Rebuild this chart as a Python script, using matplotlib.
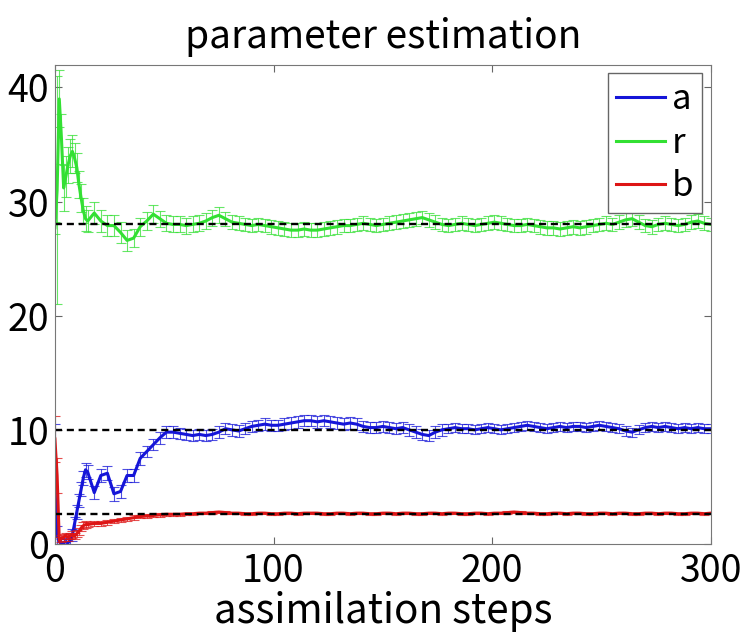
import numpy as np
import matplotlib
matplotlib.use("Agg")
import matplotlib.pyplot as plt

plt.rcParams['font.family'] = ['Noto Sans CJK JP', 'DejaVu Sans']

# assimilation steps: every step at first, then every 3rd step
steps = list(range(15)) + list(range(15, 301, 3))

# estimated parameter a (blue)
a_mean = [5.0, 0.8, 0.2, 0.1, 0.1, 0.2, 0.1, 0.3, 0.8, 1.8, 2.8, 3.8, 4.8, 5.8, 6.5,
          6.3, 4.5, 6.0, 6.2, 4.4, 4.6, 6.0, 6.0, 7.5, 8.1, 8.7, 9.3, 9.8, 9.8, 9.7,
          9.6, 9.5, 9.6, 9.5, 9.6, 9.8, 10.1, 10.0, 9.9, 10.1, 10.3, 10.4, 10.5, 10.4,
          10.4, 10.5, 10.6, 10.7, 10.8, 10.8, 10.7, 10.8, 10.7, 10.6, 10.5, 10.6, 10.5,
          10.3, 10.2, 10.2, 10.3, 10.2, 10.1, 10.2, 10.0, 9.8, 9.6, 9.5, 9.8, 10.0,
          10.1, 10.2, 10.1, 10.1, 10.0, 10.1, 10.2, 10.1, 10.0, 10.1, 10.2, 10.3, 10.4,
          10.3, 10.2, 10.1, 10.2, 10.3, 10.2, 10.3, 10.3, 10.2, 10.3, 10.4, 10.3, 10.2,
          10.1, 9.9, 9.8, 10.0, 10.2, 10.3, 10.2, 10.3, 10.2, 10.1, 10.2, 10.1, 10.2,
          10.1, 10.1]
a_err = [5.5, 0.8, 0.4, 0.3, 0.3, 0.3, 0.3, 0.4, 0.5, 0.6, 0.6, 0.6, 0.6, 0.6, 0.6,
         0.6, 0.6, 0.6, 0.6, 0.6, 0.6, 0.6, 0.6, 0.6, 0.5, 0.5, 0.5, 0.5, 0.5, 0.5,
         0.5, 0.5, 0.5, 0.5, 0.5, 0.5, 0.5, 0.5, 0.5, 0.5, 0.5, 0.5, 0.5, 0.5,
         0.5, 0.5, 0.5, 0.5, 0.5, 0.5, 0.5, 0.5, 0.5, 0.5, 0.5, 0.5, 0.5,
         0.5, 0.5, 0.5, 0.5, 0.5, 0.5, 0.5, 0.5, 0.5, 0.5, 0.5, 0.5, 0.5,
         0.4, 0.4, 0.4, 0.4, 0.4, 0.4, 0.4, 0.4, 0.4, 0.4, 0.4, 0.4, 0.4,
         0.4, 0.4, 0.4, 0.4, 0.4, 0.4, 0.4, 0.4, 0.4, 0.4, 0.4, 0.4, 0.4,
         0.4, 0.4, 0.4, 0.4, 0.4, 0.4, 0.4, 0.4, 0.4, 0.4, 0.4, 0.4, 0.4,
         0.4, 0.4]

# estimated parameter r (green)
r_mean = [27.7, 31.0, 39.0, 35.5, 31.2, 32.2, 33.2, 34.0, 34.4, 33.8, 33.0, 31.5, 30.3,
          29.2, 28.5,
          28.3, 29.0, 28.3, 27.9, 27.9, 27.3, 26.6, 26.8, 27.8, 28.3, 28.9, 28.5, 28.1,
          28.0, 28.0, 27.9, 28.0, 28.1, 28.3, 28.6, 28.8, 28.5, 28.2, 28.1, 28.0, 27.9,
          28.0, 27.9, 27.8, 27.7, 27.6, 27.5, 27.5, 27.6, 27.5, 27.5, 27.6, 27.7, 27.8,
          27.9, 27.9, 28.0, 28.1, 28.0, 27.9, 28.0, 28.1, 28.2, 28.3, 28.4, 28.5, 28.6,
          28.4, 28.2, 28.0, 27.9, 28.0, 28.1, 28.0, 27.9, 28.0, 28.1, 28.2, 28.1, 28.0,
          27.9, 27.9, 28.0, 27.9, 27.8, 27.7, 27.7, 27.6, 27.7, 27.8, 27.7, 27.8, 27.9,
          28.0, 28.1, 28.0, 28.2, 28.4, 28.5, 28.2, 27.9, 27.8, 28.0, 28.1, 28.0, 27.9,
          28.0, 28.2, 28.3, 28.1, 28.0]
r_err = [0.5, 10.0, 2.5, 2.2, 2.0, 1.8, 1.6, 1.5, 1.4, 1.3, 1.3, 1.2, 1.2, 1.1, 1.1,
         1.0, 1.0, 1.0, 0.9, 0.9, 0.9, 0.9, 0.8, 0.8, 0.8, 0.8, 0.7, 0.7, 0.7, 0.7,
         0.7, 0.7, 0.7, 0.7, 0.7, 0.7, 0.6, 0.6, 0.6, 0.6, 0.6, 0.6, 0.6, 0.6,
         0.6, 0.6, 0.6, 0.6, 0.6, 0.6, 0.6, 0.6, 0.6, 0.6, 0.6, 0.6, 0.6,
         0.6, 0.6, 0.6, 0.6, 0.6, 0.6, 0.6, 0.6, 0.6, 0.6, 0.6, 0.6, 0.6,
         0.6, 0.6, 0.6, 0.6, 0.6, 0.6, 0.6, 0.6, 0.6, 0.6, 0.6, 0.6, 0.6,
         0.6, 0.6, 0.6, 0.6, 0.6, 0.6, 0.6, 0.6, 0.6, 0.6, 0.6, 0.6, 0.6,
         0.6, 0.6, 0.6, 0.6, 0.6, 0.6, 0.6, 0.6, 0.6, 0.6, 0.6, 0.6, 0.6,
         0.6, 0.6]

# estimated parameter b (red)
b_mean = [9.2, 6.0, 0.3, 0.5, 0.6, 0.7, 0.6, 0.7, 0.8, 0.7, 0.9, 1.1, 1.4, 1.6, 1.7,
          1.7, 1.8, 1.8, 1.9, 2.0, 2.1, 2.2, 2.3, 2.4, 2.45, 2.5, 2.55, 2.6, 2.6, 2.6,
          2.65, 2.65, 2.7, 2.7, 2.75, 2.8, 2.75, 2.7, 2.7, 2.65, 2.65, 2.7, 2.7, 2.65,
          2.65, 2.7, 2.7, 2.65, 2.7, 2.7, 2.7, 2.65, 2.65, 2.7, 2.7, 2.65, 2.7,
          2.7, 2.65, 2.65, 2.7, 2.7, 2.65, 2.7, 2.7, 2.65, 2.65, 2.7, 2.7, 2.65,
          2.7, 2.7, 2.65, 2.65, 2.7, 2.7, 2.65, 2.7, 2.7, 2.75, 2.8, 2.75, 2.7,
          2.7, 2.65, 2.65, 2.7, 2.7, 2.65, 2.7, 2.7, 2.65, 2.65, 2.7, 2.7, 2.65,
          2.7, 2.7, 2.65, 2.65, 2.7, 2.7, 2.65, 2.7, 2.7, 2.65, 2.65, 2.7, 2.7,
          2.65, 2.7]
b_err = [2.0, 1.5, 0.3, 0.3, 0.3, 0.3, 0.3, 0.3, 0.3, 0.3, 0.3, 0.3, 0.3, 0.3, 0.3,
         0.2, 0.2, 0.2, 0.2, 0.2, 0.2, 0.2, 0.2, 0.15, 0.15, 0.15, 0.15, 0.15, 0.15, 0.15,
         0.1, 0.1, 0.1, 0.1, 0.1, 0.1, 0.1, 0.1, 0.1, 0.1, 0.1, 0.1, 0.1, 0.1,
         0.1, 0.1, 0.1, 0.1, 0.1, 0.1, 0.1, 0.1, 0.1, 0.1, 0.1, 0.1, 0.1,
         0.1, 0.1, 0.1, 0.1, 0.1, 0.1, 0.1, 0.1, 0.1, 0.1, 0.1, 0.1, 0.1,
         0.1, 0.1, 0.1, 0.1, 0.1, 0.1, 0.1, 0.1, 0.1, 0.1, 0.1, 0.1, 0.1,
         0.1, 0.1, 0.1, 0.1, 0.1, 0.1, 0.1, 0.1, 0.1, 0.1, 0.1, 0.1, 0.1,
         0.1, 0.1, 0.1, 0.1, 0.1, 0.1, 0.1, 0.1, 0.1, 0.1, 0.1, 0.1, 0.1,
         0.1, 0.1]

# true values
true_a = 10
true_r = 28
true_b = 8 / 3

fig = plt.figure(figsize=(7.42, 6.34), dpi=100)
ax = fig.add_axes([0.074, 0.142, 0.884, 0.756])

series = [("r", r_mean, r_err, "#33e033"),
          ("a", a_mean, a_err, "#1515d8"),
          ("b", b_mean, b_err, "#dd1515")]
handles = {}
for name, m, e, col in series:
    ax.errorbar(steps, m, yerr=e, fmt='none', ecolor=col, elinewidth=0.8,
                capsize=3.5, capthick=0.8, alpha=0.75)
    line, = ax.plot(steps, m, color=col, lw=2.2, label=name)
    handles[name] = line

for tv in [true_a, true_r, true_b]:
    ax.plot([0, 300], [tv, tv], 'k--', lw=1.7, dashes=(3, 2))

ax.set_xlim(0, 300)
ax.set_ylim(0, 42)
ax.set_xticks([0, 100, 200, 300])
ax.set_yticks([0, 10, 20, 30, 40])
ax.tick_params(direction='in', top=True, right=True, labelsize=27, length=5,
               color='#666666')
ax.tick_params(axis='x', pad=6)
ax.tick_params(axis='y', pad=4)
for s in ax.spines.values():
    s.set_color('#777777')

ax.set_title("parameter estimation", fontsize=28, pad=12)
ax.set_xlabel("assimilation steps", fontsize=29, labelpad=0)

leg = ax.legend([handles["a"], handles["r"], handles["b"]], ["a", "r", "b"],
                loc='upper right', fontsize=25, handlelength=1.4, handletextpad=0.2,
                labelspacing=0.25, borderpad=0.25, borderaxespad=0.25, fancybox=False,
                framealpha=1, edgecolor='#666666')
leg.get_frame().set_linewidth(1.0)

fig.savefig("out.png", dpi=100)
